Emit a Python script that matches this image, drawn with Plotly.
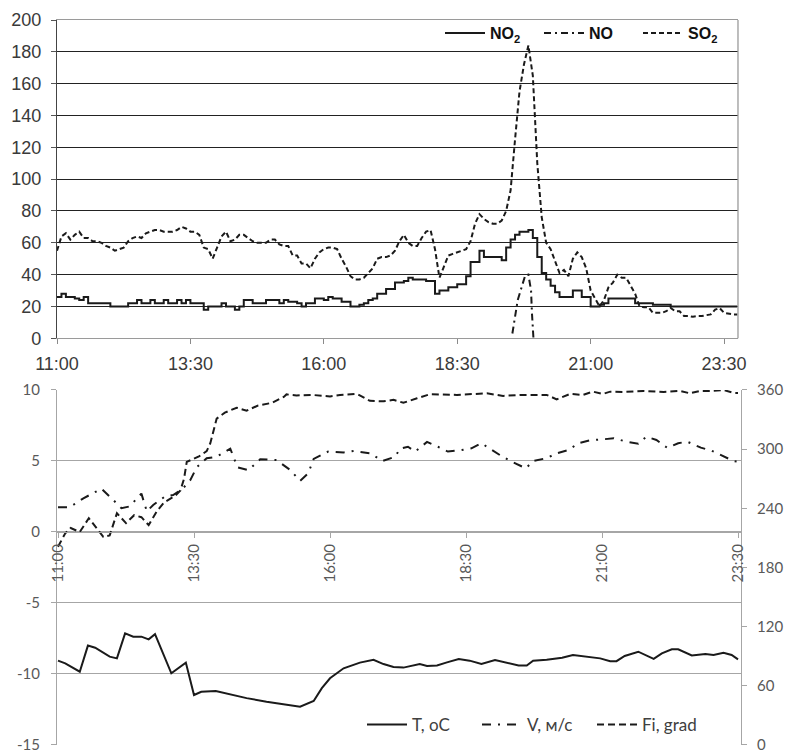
import plotly.graph_objects as go
import pandas as pd

DAY = "2020-01-15 "

# ---------------- top panel (5-min samples, 11:00 .. 23:45) ----------------
TOP_START = "11:00"
NO2 = [26, 28, 26, 26, 25, 24, 26, 22, 22, 22,
       22, 22, 20, 20, 20, 20, 22, 22, 24, 22,
       22, 24, 22, 22, 24, 22, 22, 24, 22, 24,
       22, 22, 22, 18, 20, 20, 20, 22, 20, 20,
       18, 20, 24, 24, 22, 22, 22, 24, 24, 24,
       22, 24, 23, 23, 22, 20, 22, 22, 25, 25,
       24, 26, 25, 25, 23, 23, 20, 20, 21, 22,
       24, 25, 28, 28, 31, 31, 35, 35, 36, 38,
       37, 37, 37, 36, 36, 28, 30, 30, 32, 32,
       34, 34, 39, 48, 48, 55, 51, 51, 51, 51,
       49, 57, 62, 65, 67, 67, 68, 63, 51, 41,
       37, 33, 29, 26, 26, 26, 30, 30, 26, 26,
       20, 20, 21, 22, 25, 25, 25, 25, 25, 25,
       22, 22, 22, 22, 21, 21, 21, 21, 20, 20,
       20, 20, 20, 20, 20, 20, 20, 20, 20, 20, 20, 20, 20, 20]
SO2 = [55, 64, 66, 62, 65, 67, 63, 63, 61, 61,
       60, 58, 57, 55, 56, 57, 61, 63, 64, 63,
       66, 67, 68, 68, 67, 67, 67, 68, 70, 69,
       67, 67, 65, 57, 56, 50, 57, 64, 67, 61,
       62, 65, 65, 63, 61, 60, 60, 60, 62, 62,
       59, 58, 58, 52, 52, 47, 47, 44, 50, 54,
       56, 57, 57, 56, 50, 45, 39, 37, 37, 38,
       41, 44, 50, 51, 51, 52, 55, 61, 65, 60,
       58, 58, 63, 67, 68, 56, 38, 45, 52, 53,
       54, 55, 56, 61, 72, 78, 75, 73, 72, 72,
       74, 80, 93, 125, 155, 172, 184, 165, 110, 76,
       60, 56, 49, 41, 43, 39, 50, 54, 51, 44,
       30, 25, 20, 24, 32, 35, 40, 38, 38, 33,
       28, 20, 19.5, 19.5, 16, 16, 16, 17, 19, 17,
       17, 14, 14, 13.5, 14, 14, 14.5, 15, 18, 19, 16, 15.5, 15, 15]
NO_times = ["19:32", "19:35", "19:38", "19:46", "19:48", "19:50", "19:53", "19:54", "19:56"]
NO_vals = [3, 15, 24, 38.7, 40, 40, 30, 16, -3]

# ---------------- bottom panel ----------------
T_times = ["11:00", "11:08", "11:24", "11:33", "11:41", "11:57", "12:05", "12:14", "12:23", "12:32",
           "12:40", "12:47", "13:05", "13:13", "13:21", "13:30", "13:38", "13:54", "14:13", "14:28",
           "14:50", "15:08", "15:27", "15:42", "15:51", "16:00", "16:15", "16:33", "16:48", "16:59",
           "17:10", "17:21", "17:32", "17:39", "17:47", "17:58", "18:09", "18:22", "18:34", "18:47",
           "19:02", "19:17", "19:28", "19:37", "19:44", "19:59", "20:16", "20:28", "20:43", "20:58",
           "21:09", "21:16", "21:25", "21:40", "21:57", "22:06", "22:17", "22:24", "22:39", "22:54",
           "23:03", "23:14", "23:23", "23:30"]
T_vals = [-9.06, -9.25, -9.84, -8.0, -8.15, -8.78, -8.9, -7.14, -7.37, -7.37,
          -7.56, -7.2, -9.95, -9.56, -9.2, -11.48, -11.25, -11.2, -11.5, -11.7,
          -11.95, -12.1, -12.3, -11.9, -11.0, -10.3, -9.6, -9.2, -9.0, -9.3,
          -9.5, -9.55, -9.37, -9.3, -9.44, -9.4, -9.18, -8.94, -9.06, -9.3,
          -9.01, -9.25, -9.4, -9.4, -9.06, -9.0, -8.85, -8.66, -8.78, -8.9,
          -9.1, -9.1, -8.73, -8.43, -8.94, -8.55, -8.26, -8.26, -8.7, -8.6,
          -8.66, -8.5, -8.66, -8.97]

V_times = ["11:00", "11:13", "11:28", "11:48", "12:01", "12:10", "12:19", "12:32", "12:38", "12:45",
           "12:58", "13:07", "13:18", "13:26", "13:33", "13:44", "13:55", "14:10", "14:18", "14:30",
           "14:43", "15:01", "15:16", "15:27", "15:36", "15:42", "15:58", "16:15", "16:26", "16:44",
           "16:58", "17:12", "17:17", "17:26", "17:34", "17:47", "17:59", "18:10", "18:25", "18:36",
           "18:47", "18:58", "19:09", "19:22", "19:36", "19:44", "19:59", "20:10", "20:23", "20:34",
           "20:47", "21:02", "21:13", "21:27", "21:40", "21:49", "22:00", "22:12", "22:24", "22:34",
           "22:49", "23:01", "23:14", "23:25", "23:30"]
V_vals = [1.74, 1.75, 2.37, 3.05, 2.25, 1.67, 1.8, 2.7, 1.45, 1.9,
          2.5, 2.6, 3.08, 3.66, 4.56, 5.19, 5.3, 5.87, 4.55, 4.35,
          5.12, 5.07, 4.37, 3.6, 4.13, 5.15, 5.66, 5.6, 5.7, 5.54,
          5.0, 5.3, 5.86, 6.0, 5.66, 6.34, 6.0, 5.66, 5.77, 5.89,
          6.25, 5.77, 5.35, 4.9, 4.48, 5.0, 5.2, 5.54, 5.77, 6.25,
          6.46, 6.53, 6.6, 6.36, 6.22, 6.71, 6.48, 5.92, 6.25, 6.36,
          5.94, 5.72, 5.35, 5.0, 4.95]

Fi_times = ["11:00", "11:08", "11:14", "11:24", "11:34", "11:50", "11:57", "12:05", "12:15", "12:24",
            "12:32", "12:40", "12:49", "12:57", "13:09", "13:15", "13:19", "13:22", "13:36", "13:44",
            "13:48", "13:55", "14:04", "14:17", "14:28", "14:40", "14:56", "15:09", "15:12", "15:23",
            "15:40", "16:00", "16:11", "16:30", "16:44", "16:59", "17:10", "17:21", "17:36", "17:50",
            "18:20", "18:53", "19:11", "19:33", "19:59", "20:10", "20:25", "20:39", "20:50", "21:01",
            "21:09", "21:24", "21:46", "22:08", "22:26", "22:37", "22:48", "22:59", "23:14", "23:25",
            "23:30"]
Fi_vals = [201, 214.7, 220, 216, 230, 211, 212.5, 235, 225, 233,
           231, 223, 237, 246, 252.5, 258, 270, 287, 293, 298,
           306, 331, 337, 342, 339, 344, 347, 353, 355.5, 354.5,
           355, 353.5, 355, 356, 349, 348.5, 350, 347, 351.6, 355.6,
           355, 356.6, 354, 355, 355, 350.5, 356, 355, 358.3, 356,
           358.3, 358, 359, 358, 359, 356.6, 359, 359, 360, 357,
           357]

LEFT_TICKS = [-15, -10, -5, 0, 5, 10]
LEFT_TICKTEXT = ["-15", "-10", "-5", "0", "5", "10"]


def ts(lst):
    return [DAY + s for s in lst]


top_t = pd.date_range(DAY + TOP_START, periods=len(NO2), freq="5min")

INK = "#1a1a1a"
fig = go.Figure()

fig.add_trace(go.Scatter(x=top_t, y=NO2, name="NO<sub>2</sub>", mode="lines",
                         line=dict(color=INK, width=2, shape="hv"),
                         xaxis="x", yaxis="y", legend="legend"))
fig.add_trace(go.Scatter(x=ts(NO_times), y=NO_vals, name="NO", mode="lines",
                         line=dict(color=INK, width=2, dash="7px,4px,2px,4px"),
                         xaxis="x", yaxis="y", legend="legend"))
fig.add_trace(go.Scatter(x=top_t, y=SO2, name="SO<sub>2</sub>", mode="lines",
                         line=dict(color=INK, width=2, dash="5px,3px"),
                         xaxis="x", yaxis="y", legend="legend"))

fig.add_trace(go.Scatter(x=ts(T_times), y=T_vals, name="T, oC", mode="lines",
                         line=dict(color=INK, width=2),
                         xaxis="x2", yaxis="y2", legend="legend2"))
fig.add_trace(go.Scatter(x=ts(V_times), y=V_vals, name="V, м/с", mode="lines",
                         line=dict(color=INK, width=2, dash="9px,7px,2px,7px"),
                         xaxis="x2", yaxis="y2", legend="legend2"))
fig.add_trace(go.Scatter(x=ts(Fi_times), y=Fi_vals, name="Fi, grad", mode="lines",
                         line=dict(color=INK, width=2, dash="7px,4px"),
                         xaxis="x2", yaxis="y3", legend="legend2"))

TOPFONT = dict(family="Liberation Sans, Arial, sans-serif", size=18, color="#3a3a3a")
BOTFONT = dict(family="Lato, sans-serif", size=15, color="#595959")
GRAY = "#a6a6a6"

fig.update_layout(
    width=786, height=753,
    margin=dict(l=57, r=45, t=20, b=8, autoexpand=False),
    paper_bgcolor="white", plot_bgcolor="white",
    showlegend=True,
    xaxis=dict(domain=[0, 0.9956], anchor="y", type="date", automargin=False,
               range=[DAY + "11:00", DAY + "23:45:40"],
               tick0=DAY + "11:00", dtick=9e6, tickformat="%H:%M",
               ticks="outside", ticklen=5, tickcolor="#8a8a8a",
               ticklabelstandoff=4,
               showline=True, linecolor="#9a9a9a", linewidth=1.3, mirror=True,
               showgrid=False, tickfont=TOPFONT),
    yaxis=dict(domain=[0.561, 1.0], anchor="x", range=[0, 200], dtick=20, automargin=False,
               showgrid=True, gridcolor="#222222", gridwidth=1.4,
               showline=True, linecolor="#444444", linewidth=1.3,
               ticks="outside", ticklen=5, tickcolor="#555555",
               ticklabelstandoff=6, ticklabeloverflow="allow",
               zeroline=False, tickfont=TOPFONT),
    xaxis2=dict(domain=[0, 1], anchor="free", position=0.2938, type="date", automargin=False,
                range=[DAY + "10:58:54", DAY + "23:33:18"],
                tick0=DAY + "11:00", dtick=9e6, tickformat="%H:%M", tickangle=-90,
                ticks="outside", ticklen=5, tickcolor=GRAY,
                showline=True, linecolor=GRAY, linewidth=1,
                showgrid=False, tickfont=BOTFONT),
    yaxis2=dict(domain=[0, 0.4897], anchor="x2", range=[-15, 10], automargin=False,
                tickvals=LEFT_TICKS, ticktext=LEFT_TICKTEXT,
                showgrid=True, gridcolor=GRAY, gridwidth=1,
                showline=True, linecolor=GRAY, linewidth=1,
                ticks="outside", ticklen=5, tickcolor=GRAY,
                ticklabelstandoff=8, ticklabeloverflow="allow",
                zeroline=False, tickfont=BOTFONT),
    yaxis3=dict(overlaying="y2", side="right", anchor="x2", range=[0, 360], dtick=60,
                automargin=False,
                showgrid=False, showline=True, linecolor=GRAY, linewidth=1,
                ticks="outside", ticklen=5, tickcolor=GRAY,
                ticklabelstandoff=7, ticklabeloverflow="allow",
                zeroline=False, tickfont=BOTFONT),
    legend=dict(orientation="h", x=(440 - 57) / 684, xanchor="left",
                y=(745 - 33) / 725, yanchor="middle",
                bgcolor="rgba(0,0,0,0)", itemwidth=40,
                entrywidth=44, entrywidthmode="pixels",
                font=dict(family="Liberation Sans, Arial, sans-serif", size=16,
                          color="#111111", weight="bold")),
    legend2=dict(orientation="h", x=(362 - 57) / 684, xanchor="left",
                 y=(745 - 725) / 725, yanchor="middle",
                 bgcolor="rgba(0,0,0,0)", itemwidth=40,
                 entrywidth=60, entrywidthmode="pixels",
                 font=dict(family="Lato, sans-serif", size=17, color="#404040")),
)

# right border of the top panel
fig.add_shape(type="line", xref="x domain", yref="y domain", x0=1, x1=1, y0=0, y1=1,
              line=dict(color="#9a9a9a", width=1.3))

fig.write_html("out.html", config={"displayModeBar": False},
               post_script="document.body.style.margin='0';")
